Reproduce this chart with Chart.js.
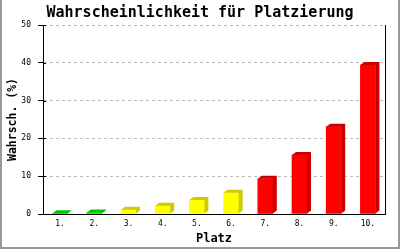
<!DOCTYPE html>
<html lang="de">
<head>
  <meta charset="UTF-8">
  <title>Wahrscheinlichkeit für Platzierung</title>
  <script src="https://cdn.jsdelivr.net/npm/chart.js"></script>
  <style>
    html, body { margin: 0; padding: 0; background: #fff; }
    canvas { display: block; }
  </style>
</head>
<body>
  <canvas id="grafik" width="400" height="250"></canvas>

  <script>
    // Daten
    const plaetze = ['1.', '2.', '3.', '4.', '5.', '6.', '7.', '8.', '9.', '10.'];
    const werte = [0.2, 0.4, 1.1, 2.2, 3.7, 5.6, 9.3, 15.6, 23.1, 39.4];
    const yTicks = [0, 10, 20, 30, 40, 50];

    // Farben je Balken (Vorderseite / Seite+Deckel)
    const farbeVorne = ['#00e600', '#00e600', '#ffff00', '#ffff00', '#ffff00', '#ffff00', '#ff0000', '#ff0000', '#ff0000', '#ff0000'];
    const farbeSeite = ['#00c400', '#00c400', '#cccc00', '#cccc00', '#cccc00', '#cccc00', '#cc0000', '#cc0000', '#cc0000', '#cc0000'];

    const MONO = "'DejaVu Sans Mono', 'Liberation Mono', monospace";
    const TIEFE_X = 4, TIEFE_Y = 3;

    // 3D-Effekt: Deckel und rechte Seite an jeden Balken anhängen
    const balken3d = {
      id: 'balken3d',
      afterDatasetsDraw(chart) {
        const ctx = chart.ctx;
        chart.getDatasetMeta(0).data.forEach((bar, i) => {
          const { x, y, base, width } = bar.getProps(['x', 'y', 'base', 'width'], true);
          const l = x - width / 2, r = x + width / 2;
          ctx.save();
          ctx.fillStyle = farbeSeite[i];
          ctx.beginPath();
          ctx.moveTo(l, y);
          ctx.lineTo(l + TIEFE_X, y - TIEFE_Y);
          ctx.lineTo(r + TIEFE_X, y - TIEFE_Y);
          ctx.lineTo(r + TIEFE_X, base - TIEFE_Y);
          ctx.lineTo(r, base);
          ctx.lineTo(r, y);
          ctx.closePath();
          ctx.fill();
          ctx.restore();
        });
      }
    };

    // Innere Tick-Stücke und grauer Bildrand
    const rahmen = {
      id: 'rahmen',
      afterDraw(chart) {
        const ctx = chart.ctx;
        const a = chart.chartArea;
        const yScale = chart.scales.y;
        ctx.save();
        ctx.strokeStyle = '#000';
        ctx.lineWidth = 1;
        ctx.beginPath();
        yTicks.forEach(v => {
          const py = Math.round(yScale.getPixelForValue(v)) + 0.5;
          ctx.moveTo(a.left, py);
          ctx.lineTo(a.left + 3, py);
        });
        ctx.stroke();

        ctx.fillStyle = '#999';
        ctx.fillRect(0, 0, 2, 249);
        ctx.fillRect(398, 0, 2, 249);
        ctx.fillRect(0, 247, 400, 2);
        ctx.restore();
      }
    };

    new Chart(document.getElementById('grafik'), {
      type: 'bar',
      data: {
        labels: plaetze,
        datasets: [{
          data: werte,
          backgroundColor: farbeVorne,
          borderWidth: 0,
          barThickness: 15
        }]
      },
      options: {
        responsive: false,
        animation: false,
        plugins: {
          legend: { display: false },
          tooltip: { enabled: false },
          title: {
            display: true,
            text: 'Wahrscheinlichkeit für Platzierung',
            color: '#000',
            font: { family: MONO, size: 15, weight: 'bold' },
            padding: { top: 4, bottom: 3 }
          }
        },
        scales: {
          x: {
            grid: { display: false, drawTicks: false },
            border: { color: '#000', width: 1 },
            ticks: { color: '#000', font: { family: MONO, size: 8 }, padding: 5, maxRotation: 0 },
            title: {
              display: true,
              text: 'Platz',
              color: '#000',
              font: { family: MONO, size: 12, weight: 'bold' },
              padding: { top: 0, bottom: 3.5 }
            },
            afterFit(s) { s.height = 36; }
          },
          y: {
            min: 0,
            max: 50,
            afterBuildTicks(s) { s.ticks = yTicks.map(v => ({ value: v })); },
            grid: { color: '#bbbbbb', tickColor: '#000', tickLength: 5 },
            border: { color: '#000', width: 1, dash: [3, 3] },
            ticks: { color: '#000', font: { family: MONO, size: 8 }, padding: 7 },
            title: {
              display: true,
              text: 'Wahrsch. (%)',
              color: '#000',
              font: { family: MONO, size: 11.5, weight: 'bold' },
              padding: { top: 6, bottom: 0 }
            },
            afterFit(s) { s.width = 43; }
          },
          rechts: {
            type: 'linear',
            position: 'right',
            min: 0,
            max: 50,
            grid: { display: false, drawTicks: false },
            border: { display: true, color: '#000', width: 1 },
            ticks: { display: false },
            afterFit(s) { s.width = 15; }
          }
        }
      },
      plugins: [balken3d, rahmen]
    });
  </script>
</body>
</html>
